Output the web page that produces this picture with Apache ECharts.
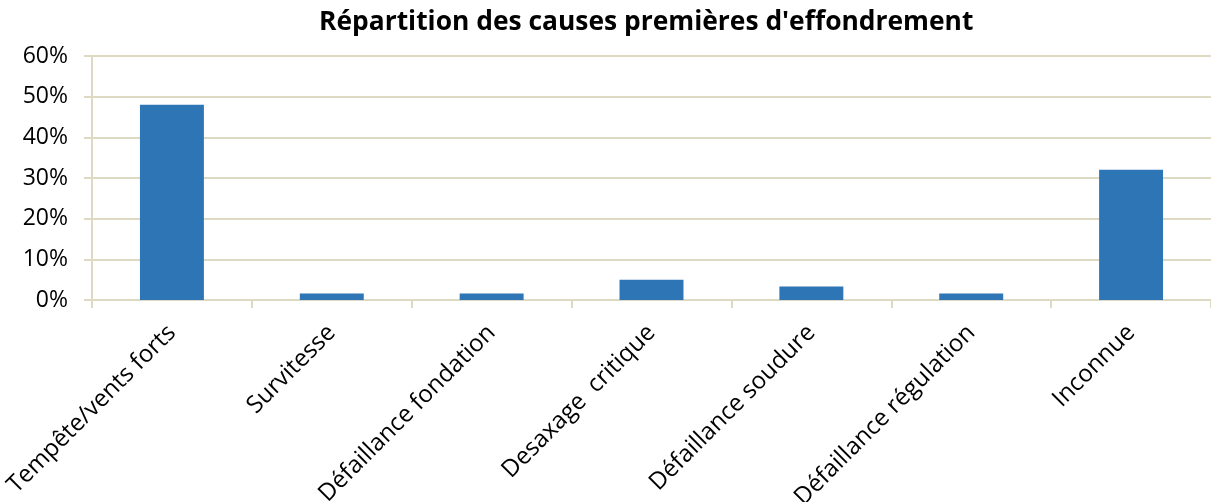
<!DOCTYPE html>
<html>
<head>
<meta charset="utf-8">
<script src="https://cdn.jsdelivr.net/npm/echarts@6/dist/echarts.min.js"></script>
<style>
  html, body { margin: 0; padding: 0; background: #fff; }
  #chart { width: 1211px; height: 502px; }
</style>
</head>
<body>
<div id="chart"></div>
<script>
const title = "Répartition des causes premières d'effondrement";
const categories = [
  'Tempête/vents forts',
  'Survitesse',
  'Défaillance fondation',
  'Desaxage  critique',
  'Défaillance soudure',
  'Défaillance régulation',
  'Inconnue'
];
// part des causes, en %
const shares = [48, 1.6, 1.6, 5.0, 3.3, 1.6, 32];
const yTicks = [0, 10, 20, 30, 40, 50, 60];

const font = 'Open Sans';
const gridColor = '#ddd9c3';

const chart = echarts.init(document.getElementById('chart'));
chart.setOption({
  animation: false,
  title: {
    text: title,
    left: 314,
    top: 4,
    textStyle: { fontFamily: font, fontSize: 26.4, fontWeight: 'bold', color: '#000' }
  },
  grid: {
    left: 92,
    right: 0,
    top: 56,
    bottom: 202,
    containLabel: false,
    outerBoundsMode: 'none' // pas d'ajustement auto de la grille (v6)
  },
  xAxis: {
    type: 'category',
    data: categories,
    axisLine: { lineStyle: { color: gridColor, width: 2 } },
    axisTick: { show: true, length: 8, lineStyle: { color: gridColor, width: 2 } },
    axisLabel: {
      rotate: 45,
      interval: 0,
      margin: 29,
      fontFamily: font,
      fontSize: 24,
      color: '#000'
    }
  },
  yAxis: {
    type: 'value',
    min: yTicks[0],
    max: yTicks[yTicks.length - 1],
    interval: 10,
    axisLine: { show: true, lineStyle: { color: gridColor, width: 2 } },
    axisTick: { show: true, length: 8, lineStyle: { color: gridColor, width: 2 } },
    splitLine: { lineStyle: { color: gridColor, width: 2 } },
    axisLabel: {
      formatter: '{value}%',
      margin: 24,
      fontFamily: font,
      fontSize: 23,
      color: '#000'
    }
  },
  series: [{
    type: 'bar',
    data: shares,
    barWidth: '40%',
    itemStyle: { color: '#2e75b6' }
  }]
});
</script>
</body>
</html>
